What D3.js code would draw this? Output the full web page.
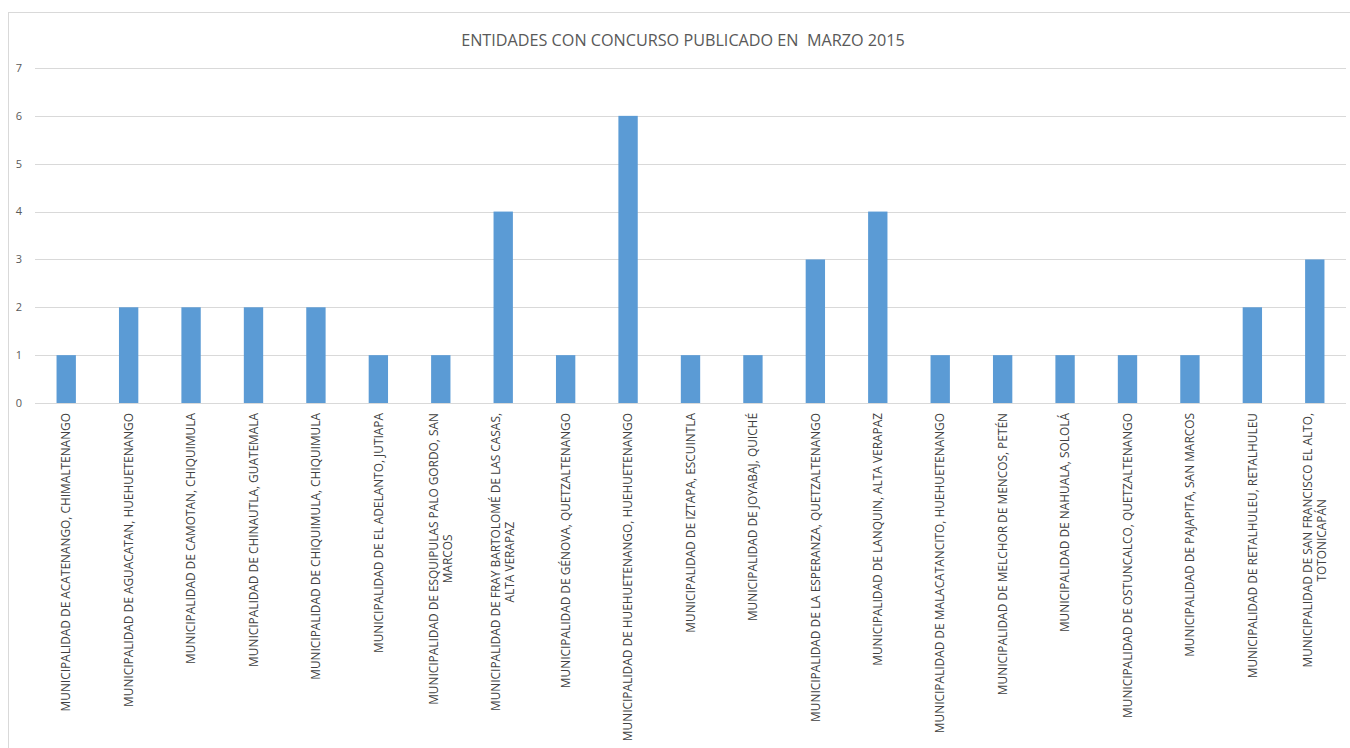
<!DOCTYPE html>
<html>
<head>
<meta charset="utf-8">
<script src="https://cdn.jsdelivr.net/npm/d3@7"></script>
<style>
  body { margin: 0; background: #fff; }
  svg { display: block; font-family: "Open Sans", "DejaVu Sans", sans-serif; }
</style>
</head>
<body>
<svg id="chart" width="1350" height="748"></svg>
<script>
// 数据
const categories = [
    ["MUNICIPALIDAD DE ACATENANGO, CHIMALTENANGO"],
    ["MUNICIPALIDAD DE AGUACATAN, HUEHUETENANGO"],
    ["MUNICIPALIDAD DE CAMOTAN, CHIQUIMULA"],
    ["MUNICIPALIDAD DE CHINAUTLA, GUATEMALA"],
    ["MUNICIPALIDAD DE CHIQUIMULA, CHIQUIMULA"],
    ["MUNICIPALIDAD DE EL ADELANTO, JUTIAPA"],
    ["MUNICIPALIDAD DE ESQUIPULAS PALO GORDO, SAN", "MARCOS"],
    ["MUNICIPALIDAD DE FRAY BARTOLOMÉ DE LAS CASAS,", "ALTA VERAPAZ"],
    ["MUNICIPALIDAD DE GÉNOVA, QUETZALTENANGO"],
    ["MUNICIPALIDAD DE HUEHUETENANGO, HUEHUETENANGO"],
    ["MUNICIPALIDAD DE IZTAPA, ESCUINTLA"],
    ["MUNICIPALIDAD DE JOYABAJ, QUICHÉ"],
    ["MUNICIPALIDAD DE LA ESPERANZA, QUETZALTENANGO"],
    ["MUNICIPALIDAD DE LANQUIN, ALTA VERAPAZ"],
    ["MUNICIPALIDAD DE MALACATANCITO, HUEHUETENANGO"],
    ["MUNICIPALIDAD DE MELCHOR DE MENCOS, PETÉN"],
    ["MUNICIPALIDAD DE NAHUALA, SOLOLÁ"],
    ["MUNICIPALIDAD DE OSTUNCALCO, QUETZALTENANGO"],
    ["MUNICIPALIDAD DE PAJAPITA, SAN MARCOS"],
    ["MUNICIPALIDAD DE RETALHULEU, RETALHULEU"],
    ["MUNICIPALIDAD DE SAN FRANCISCO EL ALTO,", "TOTONICAPÁN"]
];
const values = [1, 2, 2, 2, 2, 1, 1, 4, 1, 6, 1, 1, 3, 4, 1, 1, 1, 1, 1, 2, 3];
const yTicks = [0, 1, 2, 3, 4, 5, 6, 7];
const title = "ENTIDADES CON CONCURSO PUBLICADO EN  MARZO 2015";

const svg = d3.select("#chart");
const width = 1350, height = 748;

// 外框
svg.append("rect")
    .attr("x", 8.5).attr("y", 12.5)
    .attr("width", 1345).attr("height", 740)
    .attr("fill", "#fff")
    .attr("stroke", "#d9d9d9");

// 绘图区
const plot = { left: 35, right: 1346, top: 68, bottom: 403 };

const x = d3.scaleBand()
    .domain(d3.range(categories.length))
    .range([plot.left, plot.right])
    .paddingInner(0.69)
    .paddingOuter(0.345);

const y = d3.scaleLinear()
    .domain([0, 7])
    .range([plot.bottom, plot.top]);

// 网格线
svg.append("g")
    .selectAll("line")
    .data(yTicks)
    .join("line")
    .attr("x1", plot.left).attr("x2", plot.right)
    .attr("y1", d => Math.round(y(d)) + 0.5)
    .attr("y2", d => Math.round(y(d)) + 0.5)
    .attr("stroke", "#d9d9d9")
    .attr("stroke-width", 1);

// y轴刻度
svg.append("g")
    .selectAll("text")
    .data(yTicks)
    .join("text")
    .attr("x", 19)
    .attr("y", d => y(d))
    .attr("dy", "0.35em")
    .attr("text-anchor", "middle")
    .attr("font-size", 11)
    .attr("fill", "#595959")
    .text(d => d);

// 柱子
svg.append("g")
    .selectAll("rect")
    .data(values)
    .join("rect")
    .attr("x", (d, i) => x(i))
    .attr("y", d => y(d))
    .attr("width", x.bandwidth())
    .attr("height", d => y(0) - y(d))
    .attr("fill", "#5b9bd5");

// x轴类别标签（旋转-90度，多行居中）
const lineH = 14;
const labels = svg.append("g")
    .selectAll("g")
    .data(categories)
    .join("g")
    .attr("transform", (d, i) => `translate(${x(i) + x.bandwidth() / 2},${plot.bottom + 10}) rotate(-90)`);

labels.each(function (lines) {
    const g = d3.select(this);
    const texts = g.selectAll("text")
        .data(lines)
        .join("text")
        .attr("font-size", 11.9)
        .attr("fill", "#404040")
        .attr("text-anchor", "middle")
        .attr("dy", "0.35em")
        .text(d => d);
    const maxLen = d3.max(texts.nodes(), n => n.getComputedTextLength());
    const n = lines.length;
    texts
        .attr("x", -maxLen / 2)
        .attr("y", (d, k) => (k - (n - 1) / 2) * lineH);
});

// 标题
svg.append("text")
    .attr("x", 683)
    .attr("y", 40)
    .attr("dy", "0.35em")
    .attr("text-anchor", "middle")
    .attr("font-size", 16.2)
    .attr("fill", "#595959")
    .style("white-space", "pre")
    .text(title);
</script>
</body>
</html>
